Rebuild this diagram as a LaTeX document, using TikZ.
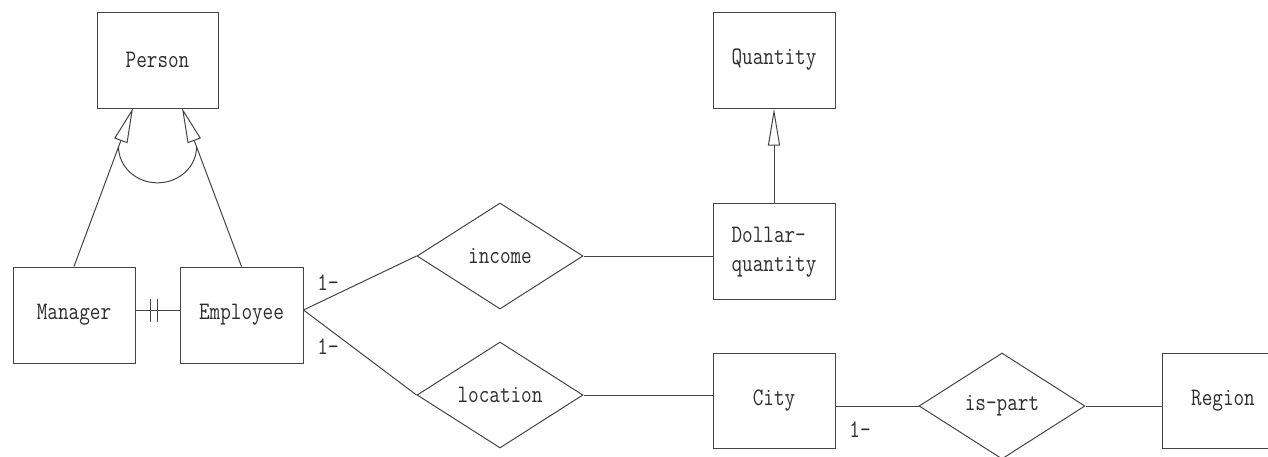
\documentclass[tikz,border=0pt]{standalone}
\usepackage{graphicx}
\usepackage{fontspec}
\usetikzlibrary{shapes.geometric,arrows.meta,calc}
\definecolor{ln}{HTML}{444444}
\definecolor{tc}{HTML}{2E2E2E}
\newcommand{\tx}[1]{\scalebox{1}[1.22]{#1}}
\tikzset{
  lbl/.style={text=tc,font=\ttfamily\fontsize{20.6}{24}\selectfont},
  ent/.style={lbl,draw=ln,line width=1pt,rectangle,inner sep=0pt,minimum width=122pt,minimum height=96pt},
  rel/.style={lbl,draw=ln,line width=1pt,diamond,aspect=1.566,inner sep=0pt,minimum width=166pt,minimum height=106pt},
  card/.style={lbl,inner sep=0pt},
  conn/.style={draw=ln,line width=1pt},
  isa/.style={draw=ln,line width=1pt,-{Triangle[open,length=35pt,width=14pt]}},
}
\begin{document}
\begin{tikzpicture}[x=1pt,y=-1pt]
\useasboundingbox (0,0) rectangle (1268,456);
% entities
\node[ent,minimum width=121pt] (person) at (157.5,60) {\tx{Person}};
\node[ent] (manager) at (74,315) {\tx{Manager}};
\node[ent,minimum width=123pt] (employee) at (241.5,315) {\tx{Employee}};
\node[ent] (quantity) at (774,60) {\tx{Quantity}};
\node[ent] (dquant) at (774,251) {\tx{\begin{tabular}{@{}l@{}}Dollar-\\quantity\end{tabular}}};
\node[ent,minimum height=95pt] (city) at (774,400.5) {\tx{City}};
\node[ent,minimum height=95pt] (region) at (1223,400.5) {\tx{Region}};
% relationships
\node[rel] (income) at (500,256) {\tx{income}};
\node[rel] (location) at (500,395) {\tx{location}};
\node[rel] (ispart) at (1002,406) {\tx{is-part}};
% anchor points
\coordinate (pl) at (133,108);
\coordinate (pr) at (182,108);
\coordinate (me) at ([yshift=5pt]manager.east);
\coordinate (ee) at ([yshift=5pt]employee.east);
% generalisations
\draw[isa] (manager.north) -- (pl);
\draw[isa] (employee.north) -- (pr);
\draw[conn] ($(manager.north)!0.755!(pl)$) arc[start angle=180,end angle=360,x radius=39pt,y radius=36pt];
\draw[isa,-{Triangle[open,length=37pt,width=12pt]}] (dquant.north) -- (quantity.south);
% Manager - Employee
\draw[conn] (me) -- (employee.west |- me);
\draw[conn] ([xshift=15pt]me) ++(0,-11.5) -- ++(0,23);
\draw[conn] ([xshift=22pt]me) ++(0,-11.5) -- ++(0,23);
% relationships connectors
\draw[conn] (ee) -- (income.west);
\draw[conn] (ee) -- (location.west);
\draw[conn] (income.east) -- (dquant.west |- income.east);
\draw[conn] (location.east) -- (city.west |- location.east);
\draw[conn] (city.east |- ispart.west) -- (ispart.west);
\draw[conn] (ispart.east) -- (region.west |- ispart.east);
% cardinalities
\node[card] (c1) at (328,283) {\tx{1-}};
\node[card] (c2) at (328,347) {\tx{1-}};
\node[card] (c3) at (860,430) {\tx{1-}};
\end{tikzpicture}
\end{document}
